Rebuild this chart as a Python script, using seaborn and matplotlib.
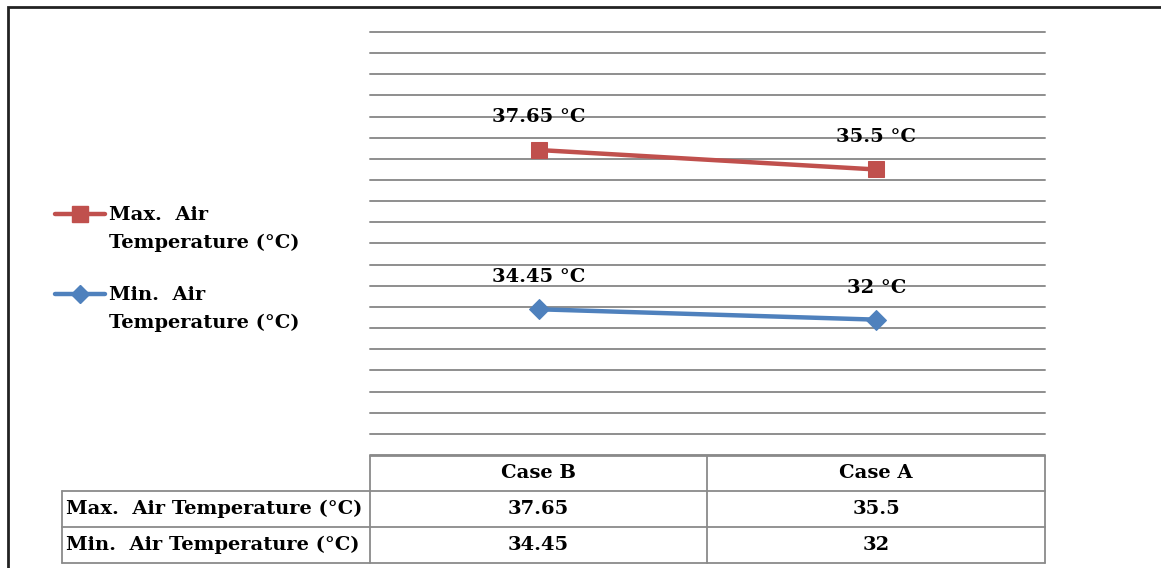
#!/usr/bin/env python3
from __future__ import annotations

import matplotlib

matplotlib.use("Agg")
import matplotlib.pyplot as plt
import pandas as pd
import seaborn as sns
from matplotlib.lines import Line2D
from matplotlib.patches import Rectangle

# chart data
cases = ["Case B", "Case A"]
max_air_temp = [37.65, 35.5]
min_air_temp = [34.45, 32]
series_names = ["Max.  Air Temperature (°C)", "Min.  Air Temperature (°C)"]
legend_labels = ["Max.  Air\nTemperature (°C)", "Min.  Air\nTemperature (°C)"]

W, H = 1161, 568
RED = "#C0504D"
BLUE = "#4F81BD"
GRID = "#8E8E8E"
FONT = "DejaVu Serif"


def fx(px: float) -> float:
    return px / W


def fy(py: float) -> float:
    return 1 - py / H


def main() -> None:
    sns.set_theme(style="white")
    plt.rcParams["font.family"] = [FONT, "DejaVu Sans"]
    plt.rcParams["font.weight"] = "bold"
    plt.rcParams["text.color"] = "black"

    fig = plt.figure(figsize=(W / 100, H / 100), dpi=100)
    ax = fig.add_axes([fx(370), fy(455), fx(1045) - fx(370), fy(32) - fy(455)])

    # excel "stacked line": max series is drawn on top of min series
    frame = pd.DataFrame({"case": cases, "min": min_air_temp, "max": max_air_temp})
    frame["max_stacked"] = frame["min"] + frame["max"]
    frame["x"] = range(len(cases))

    sns.lineplot(data=frame, x="x", y="max_stacked", ax=ax, color=RED, lw=3.2,
                 marker="s", markersize=12, markeredgecolor=RED, zorder=3)
    sns.lineplot(data=frame, x="x", y="min", ax=ax, color=BLUE, lw=3.2,
                 marker="D", markersize=10, markeredgecolor=BLUE, zorder=3)

    for xi, (top, raw) in enumerate(zip(frame["max_stacked"], frame["max"])):
        ax.annotate(f"{raw:g} °C", (xi, top), xytext=(0, 23.5), textcoords="offset points",
                    ha="center", va="center", fontsize=14, fontweight="bold", color="black")
    for xi, raw in enumerate(frame["min"]):
        ax.annotate(f"{raw:g} °C", (xi, raw), xytext=(0, 23), textcoords="offset points",
                    ha="center", va="center", fontsize=14, fontweight="bold", color="black")

    ax.set_xlim(-0.5, len(cases) - 0.5)
    ax.set_ylim(0, 100)
    ax.set_yticks(range(0, 101, 5))
    ax.set_xticks([])
    ax.tick_params(length=0, labelleft=False)
    ax.grid(axis="y", color=GRID, lw=1.4)
    for gl in ax.get_ygridlines():
        gl.set_clip_on(False)
    ax.set_xlabel("")
    ax.set_ylabel("")
    for spine in ax.spines.values():
        spine.set_visible(False)

    _draw_legend(fig)
    _draw_table(fig)

    # outer chart border
    fig.patches.append(Rectangle((fx(8), fy(600)), 1.2, fy(7) - fy(600), transform=fig.transFigure,
                                 fill=False, edgecolor="#222222", lw=2, figure=fig))

    fig.savefig("out.png", dpi=100, facecolor="white")
    plt.close(fig)


def _draw_legend(fig) -> None:
    # handle sits beside the first line of each wrapped label, as in Excel
    entries = [(RED, "s", 11, 214), (BLUE, "D", 9, 294)]
    for (color, marker, size, y), label in zip(entries, legend_labels):
        fig.add_artist(Line2D([fx(55), fx(105)], [fy(y), fy(y)], color=color, lw=3.2,
                              transform=fig.transFigure))
        fig.add_artist(Line2D([fx(80)], [fy(y)], color=color, marker=marker, markersize=size,
                              transform=fig.transFigure))
        fig.text(fx(109), fy(y - 8), label, ha="left", va="top", fontsize=14,
                 fontweight="bold", color="black", linespacing=1.7)


def _draw_table(fig) -> None:
    line_kw = dict(color="#8A8A8A", lw=1.3, transform=fig.transFigure)
    cols = [370, 707, 1045]
    rows = [456, 491, 527, 563]
    fig.add_artist(Line2D([fx(370), fx(1045)], [fy(456), fy(456)], **line_kw))
    for y in rows[1:]:
        fig.add_artist(Line2D([fx(62), fx(1045)], [fy(y), fy(y)], **line_kw))
    fig.add_artist(Line2D([fx(62), fx(62)], [fy(491), fy(563)], **line_kw))
    for x in cols:
        fig.add_artist(Line2D([fx(x), fx(x)], [fy(456), fy(563)], **line_kw))

    centers = [(a + b) / 2 for a, b in zip(cols[:-1], cols[1:])]
    text_kw = dict(fontsize=14, fontweight="bold", va="center", color="black")
    for cx, case in zip(centers, cases):
        fig.text(fx(cx), fy(473.5), case, ha="center", **text_kw)
    for ry, name, values in zip([509, 545], series_names, [max_air_temp, min_air_temp]):
        fig.text(fx(66), fy(ry), name, ha="left", **text_kw)
        for cx, v in zip(centers, values):
            fig.text(fx(cx), fy(ry), f"{v:g}", ha="center", **text_kw)


if __name__ == "__main__":
    main()
